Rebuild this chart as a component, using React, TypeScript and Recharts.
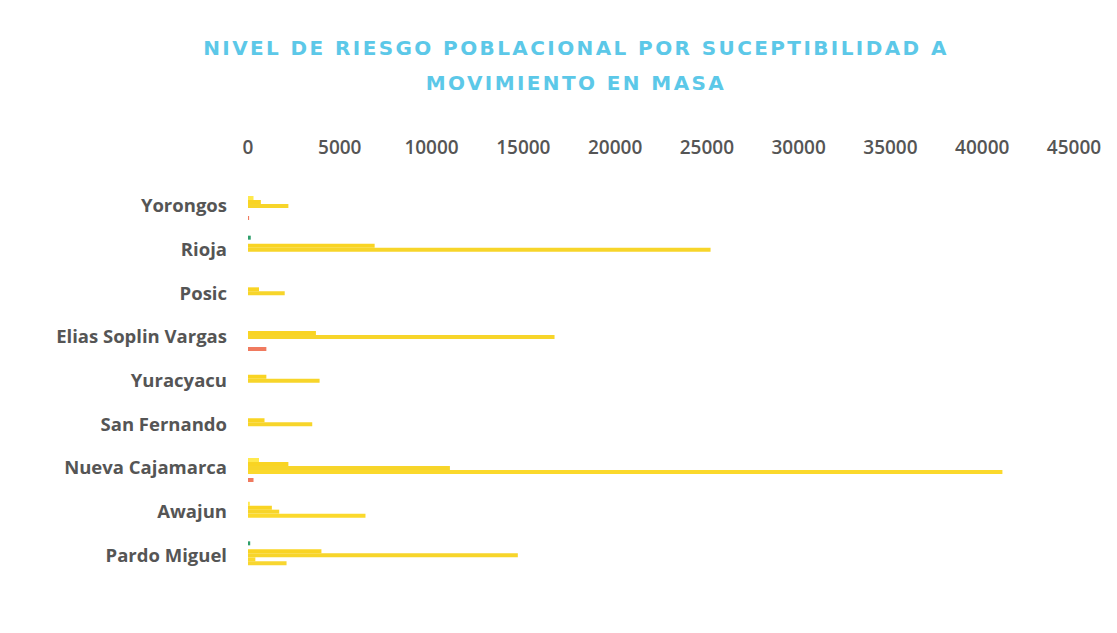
import React from 'react';
import { BarChart, Bar, XAxis, YAxis } from 'recharts';

const distritos = [
  'Yorongos', 'Rioja', 'Posic', 'Elias Soplin Vargas', 'Yuracyacu',
  'San Fernando', 'Nueva Cajamarca', 'Awajun', 'Pardo Miguel',
];

// valores (habitantes por nivel)
const muyBajo = [0, 150, 0, 0, 0, 0, 0, 0, 120];
const bajo = [300, 0, 0, 0, 0, 0, 600, 100, 0];
const medio1 = [700, 6900, 600, 3700, 1000, 900, 2200, 1300, 4000];
const medio2 = [2200, 25200, 2000, 16700, 3900, 3500, 11000, 1700, 14700];
const alto1 = [0, 0, 0, 0, 0, 0, 41100, 6400, 400];
const alto2 = [0, 0, 0, 0, 0, 0, 0, 0, 2100];
const muyAlto = [60, 0, 0, 1000, 0, 0, 300, 0, 0];

const ticks = [0, 5000, 10000, 15000, 20000, 25000, 30000, 35000, 40000, 45000];

const data = distritos.map((name, i) => ({
  name,
  muyBajo: muyBajo[i],
  bajo: bajo[i],
  medio1: medio1[i],
  medio2: medio2[i],
  alto1: alto1[i],
  alto2: alto2[i],
  muyAlto: muyAlto[i],
}));

const series = [
  { key: 'muyBajo', color: '#2e9e6b' },
  { key: 'bajo', color: '#ffe94d' },
  { key: 'medio1', color: '#f9d423' },
  { key: 'medio2', color: '#f7d52a' },
  { key: 'alto1', color: '#fbd92c' },
  { key: 'alto2', color: '#f8d630' },
  { key: 'muyAlto', color: '#f07a5f' },
];

const font = '"Open Sans", sans-serif';

export default function App() {
  return (
    <div style={{
      position: 'relative', width: 1117, height: 633, margin: -8,
      background: '#fff', boxSizing: 'border-box', borderTop: '1px solid #e2e2e2',
      borderLeft: '1px solid #e8e8e8',
    }}>
      <div style={{
        position: 'absolute', top: 30, left: 0, width: 1150, textAlign: 'center',
        color: '#5cc8e8', fontFamily: '"DejaVu Sans", sans-serif', fontWeight: 700,
        fontSize: 20, letterSpacing: 2.4, lineHeight: '35px',
      }}>
        NIVEL DE RIESGO POBLACIONAL POR SUCEPTIBILIDAD A<br />MOVIMIENTO EN MASA
      </div>
      <BarChart
        width={1117} height={633} data={data} layout="vertical"
        margin={{ top: 148, right: 44, left: 47, bottom: 57 }}
        barGap={0} barCategoryGap={8}
        style={{ position: 'absolute', top: 0, left: 0 }}
      >
        <XAxis
          type="number" orientation="top" domain={[0, 45000]} ticks={ticks}
          axisLine={false} tickLine={false} height={35} interval={0}
          tick={{ fontSize: 19, fill: '#555', fontFamily: font, fontWeight: 600 }}
          tickMargin={24}
        />
        <YAxis
          type="category" dataKey="name" width={200}
          axisLine={false} tickLine={false} tickMargin={15}
          tick={{ fontSize: 18.5, fill: '#555', fontFamily: font, fontWeight: 700 }}
        />
        {series.map(s => (
          <Bar key={s.key} dataKey={s.key} fill={s.color} barSize={4} isAnimationActive={false} />
        ))}
      </BarChart>
    </div>
  );
}
